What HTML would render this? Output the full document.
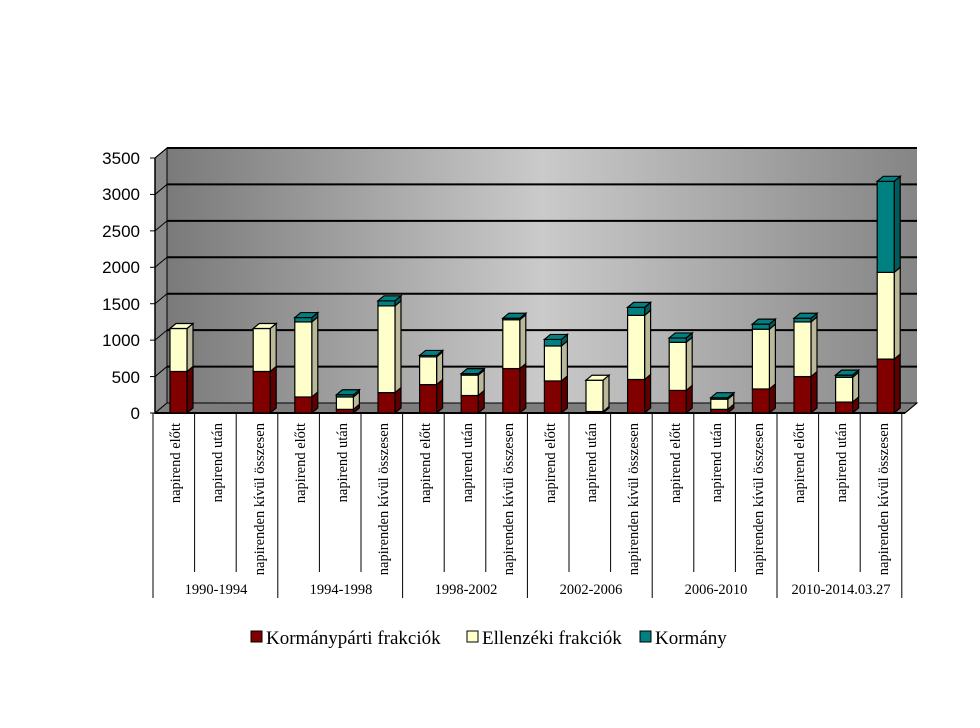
<!DOCTYPE html>
<html><head><meta charset="utf-8"><style>
body{margin:0;background:#fff}
svg{display:block}
.t{font-family:"Liberation Sans",sans-serif;font-size:17px}
.c{font-family:"Liberation Serif",serif;font-size:14.5px}
.l{font-family:"Liberation Serif",serif;font-size:19px}
</style></head><body>
<svg id="s" width="980" height="728" xmlns="http://www.w3.org/2000/svg">
<defs><linearGradient id="g" x1="0" x2="1" y1="0" y2="0">
<stop offset="0" stop-color="#7a7a7a"/><stop offset="0.5" stop-color="#cacaca"/><stop offset="1" stop-color="#858585"/></linearGradient></defs>
<polygon points="167,148 917,148 917,403 167,403" fill="url(#g)"/>
<polygon points="155,158 167,148 167,403 155,413" fill="#8a8a8a" stroke="#000" stroke-width="1"/>
<polygon points="155,413 167,403 917,403 905,413" fill="#7d7d7d" stroke="#000" stroke-width="1"/>
<g id="grid" stroke="#000" stroke-width="2"></g>
<line x1="155" y1="158" x2="155" y2="414" stroke="#000" stroke-width="1.5"/>
<line x1="155" y1="413" x2="905" y2="413" stroke="#000" stroke-width="2"/>
<g id="bars" stroke="#000" stroke-width="1.2"></g>
<g class="t" text-anchor="end">
<text x="140" y="419">0</text><text x="140" y="383">500</text><text x="140" y="346">1000</text>
<text x="140" y="310">1500</text><text x="140" y="273">2000</text><text x="140" y="237">2500</text>
<text x="140" y="200">3000</text><text x="140" y="164">3500</text>
</g>
<g id="div" stroke="#000" stroke-width="1"></g>
<g class="c" text-anchor="end">
<text transform="translate(180,423) rotate(-90)">napirend előtt</text>
<text transform="translate(222,423) rotate(-90)">napirend után</text>
<text transform="translate(264,423) rotate(-90)">napirenden kívül összesen</text>
<text transform="translate(305,423) rotate(-90)">napirend előtt</text>
<text transform="translate(347,423) rotate(-90)">napirend után</text>
<text transform="translate(388,423) rotate(-90)">napirenden kívül összesen</text>
<text transform="translate(430,423) rotate(-90)">napirend előtt</text>
<text transform="translate(472,423) rotate(-90)">napirend után</text>
<text transform="translate(513,423) rotate(-90)">napirenden kívül összesen</text>
<text transform="translate(555,423) rotate(-90)">napirend előtt</text>
<text transform="translate(596,423) rotate(-90)">napirend után</text>
<text transform="translate(638,423) rotate(-90)">napirenden kívül összesen</text>
<text transform="translate(680,423) rotate(-90)">napirend előtt</text>
<text transform="translate(721,423) rotate(-90)">napirend után</text>
<text transform="translate(763,423) rotate(-90)">napirenden kívül összesen</text>
<text transform="translate(804,423) rotate(-90)">napirend előtt</text>
<text transform="translate(846,423) rotate(-90)">napirend után</text>
<text transform="translate(888,423) rotate(-90)">napirenden kívül összesen</text>
</g>
<g class="c" text-anchor="middle">
<text x="216" y="594">1990-1994</text><text x="341" y="594">1994-1998</text><text x="466" y="594">1998-2002</text>
<text x="591" y="594">2002-2006</text><text x="716" y="594">2006-2010</text><text x="841" y="594">2010-2014.03.27</text>
</g>
<g class="l">
<rect x="251" y="631" width="11" height="11" fill="#800000" stroke="#000"/><text x="266" y="644">Kormánypárti frakciók</text>
<rect x="467" y="631" width="11" height="11" fill="#ffffcc" stroke="#000"/><text x="482" y="644">Ellenzéki frakciók</text>
<rect x="640" y="631" width="11" height="11" fill="#008080" stroke="#000"/><text x="655" y="644">Kormány</text>
</g>
</svg>
<script>
var N="http://www.w3.org/2000/svg",k=255/3500;
function el(p,t,a){var e=document.createElementNS(N,t);for(var i in a)e.setAttribute(i,a[i]);p.appendChild(e);return e;}
var g=document.getElementById("grid");
for(var i=1;i<=7;i++){var y=403-i*500*k;el(g,"line",{x1:167,y1:y,x2:917,y2:y});el(g,"line",{x1:155,y1:y+10,x2:167,y2:y,"stroke-width":1});el(g,"line",{x1:150,y1:y+10,x2:155,y2:y+10,"stroke-width":1});}
el(g,"line",{x1:150,y1:413,x2:155,y2:413,"stroke-width":1});
el(g,"line",{x1:905,y1:413,x2:917,y2:403,"stroke-width":1});
var d=document.getElementById("div"),w=41.6;
for(var i=0;i<=18;i++){var x=153+i*w;el(d,"line",{x1:x,y1:413,x2:x,y2:(i%3==0)?598:572});}
var data=[[570,590,0],[0,0,0],[570,590,0],[220,1030,60],[50,170,30],[280,1190,70],[390,380,20],[240,280,20],[610,670,20],[440,480,90],[20,430,0],[460,880,110],[310,660,60],[50,140,20],[330,820,70],[500,750,50],[150,340,30],[740,1190,1250]];
var fc=["#800000","#ffffcc","#008080"],sc=["#5c0000","#b9b99a","#005c5c"];
var b=document.getElementById("bars");
data.forEach(function(s,i){var x=170+i*w,v=0,top=-1;
 s.forEach(function(h,j){if(!h)return;var y0=413-v*k,y1=413-(v+h)*k;
  el(b,"polygon",{points:(x+17)+","+y1+" "+(x+23)+","+(y1-5)+" "+(x+23)+","+(y0-5)+" "+(x+17)+","+y0,fill:sc[j]});
  el(b,"rect",{x:x,y:y1,width:17,height:y0-y1,fill:fc[j]});v+=h;top=j;});
 if(top>=0){var yt=413-v*k;el(b,"polygon",{points:x+","+yt+" "+(x+6)+","+(yt-5)+" "+(x+23)+","+(yt-5)+" "+(x+17)+","+yt,fill:fc[top]});}
});
</script>
</body></html>
